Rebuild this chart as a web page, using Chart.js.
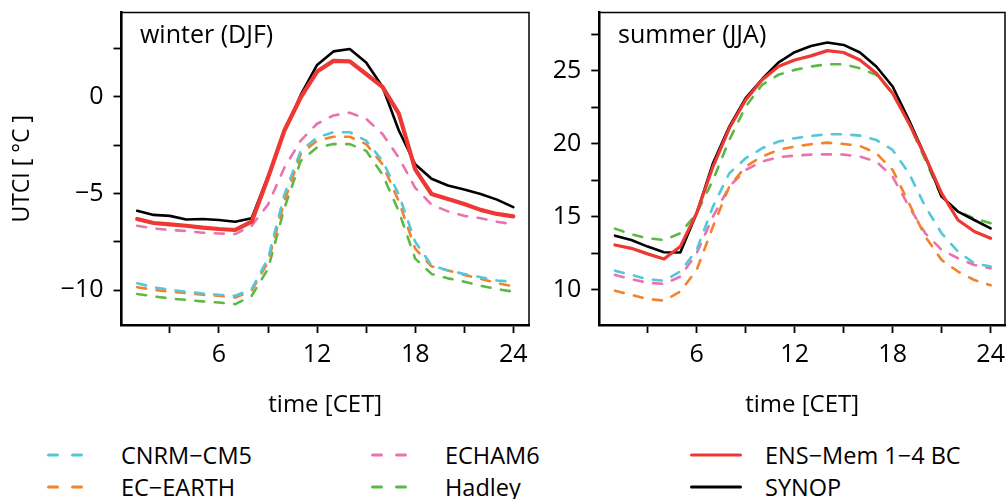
<!DOCTYPE html>
<html>
<head>
<meta charset="utf-8">
<script src="https://cdn.jsdelivr.net/npm/chart.js@4/dist/chart.umd.min.js"></script>
<style>
  html, body { margin: 0; padding: 0; background: #fff; }
  body { width: 1007px; height: 499px; position: relative; overflow: hidden;
         font-family: "Open Sans", "Noto Sans", sans-serif; color: #000; }
  canvas { position: absolute; top: 0; }
  #cWinter { left: 0; }
  #cSummer { left: 540px; }
  .panel-label { position: absolute; font-size: 25px; line-height: 30px; white-space: nowrap; }
  .legend-text { position: absolute; font-size: 23.5px; line-height: 30px; height: 30px; white-space: nowrap; }
  .legend-key { position: absolute; height: 10px; }
</style>
</head>
<body>
<canvas id="cWinter" width="545" height="430"></canvas>
<canvas id="cSummer" width="467" height="430"></canvas>
<div class="panel-label" style="left:140px; top:18px;">winter (DJF)</div>
<div class="panel-label" style="left:618px; top:18px;">summer (JJA)</div>
<div id="legend"></div>
<script>
// hour of day (CET)
const hours = [1,2,3,4,5,6,7,8,9,10,11,12,13,14,15,16,17,18,19,20,21,22,23,24];

// winter (DJF) mean diurnal UTCI cycle, °C
const winterCNRM   = [-9.63,-9.84,-9.97,-10.07,-10.16,-10.23,-10.28,-9.93,-8.36,-5.05,-2.79,-2.09,-1.83,-1.83,-2.26,-3.31,-5.05,-7.49,-8.71,-8.97,-9.15,-9.32,-9.49,-9.55];
const winterECE    = [-9.84,-9.97,-10.07,-10.14,-10.23,-10.28,-10.37,-10.02,-8.54,-5.40,-2.96,-2.26,-2.06,-2.06,-2.44,-3.48,-5.40,-7.84,-8.76,-8.97,-9.20,-9.41,-9.62,-9.79];
const winterECHAM  = [-6.66,-6.80,-6.88,-6.93,-7.02,-7.06,-7.09,-6.66,-5.57,-3.66,-2.26,-1.39,-0.96,-0.82,-1.13,-1.92,-3.14,-4.70,-5.57,-5.92,-6.15,-6.27,-6.45,-6.59];
const winterHadley = [-10.19,-10.31,-10.42,-10.49,-10.57,-10.63,-10.71,-10.28,-8.89,-5.75,-3.31,-2.61,-2.44,-2.44,-2.79,-4.01,-5.92,-8.36,-9.15,-9.38,-9.55,-9.76,-9.93,-10.07];
const winterENS    = [-6.31,-6.52,-6.59,-6.66,-6.76,-6.83,-6.88,-6.45,-4.18,-1.74,-0.03,1.31,1.86,1.83,1.18,0.52,-0.87,-3.75,-5.02,-5.28,-5.54,-5.84,-6.05,-6.18];
const winterSYNOP  = [-5.89,-6.10,-6.15,-6.34,-6.31,-6.36,-6.45,-6.27,-4.10,-1.80,0.10,1.65,2.35,2.47,1.78,0.52,-1.74,-3.48,-4.23,-4.58,-4.79,-5.02,-5.31,-5.70];

// summer (JJA) mean diurnal UTCI cycle, °C
const summerCNRM   = [11.32,11.03,10.73,10.64,11.26,12.74,15.71,17.99,19.02,19.70,20.16,20.39,20.55,20.66,20.66,20.57,20.27,19.59,17.99,15.71,13.88,12.63,11.83,11.60];
const summerECE    = [9.95,9.66,9.38,9.27,9.89,11.37,14.34,17.08,18.45,19.13,19.59,19.82,19.98,20.09,20.00,19.86,19.36,18.22,15.94,13.65,12.05,11.26,10.68,10.32];
const summerECHAM  = [11.03,10.73,10.50,10.41,10.91,12.51,15.02,17.08,18.22,18.79,19.09,19.20,19.27,19.29,19.27,19.13,18.79,17.76,15.71,13.88,12.74,12.17,11.71,11.48];
const summerHadley = [14.20,13.81,13.54,13.42,13.88,15.25,17.53,20.27,22.56,24.04,24.73,25.07,25.30,25.46,25.46,25.18,24.73,23.47,21.42,18.90,16.39,15.37,14.91,14.57];
const summerENS    = [13.08,12.85,12.47,12.12,12.97,15.25,18.45,21.07,23.01,24.38,25.30,25.75,26.03,26.39,26.26,25.75,24.84,23.47,21.42,19.13,16.62,14.79,14.00,13.54];
const summerSYNOP  = [13.72,13.42,12.97,12.58,12.56,15.25,18.68,21.19,23.13,24.43,25.57,26.28,26.71,26.94,26.78,26.26,25.30,23.93,21.64,19.13,16.39,15.37,14.79,14.22];

// axis ticks
const xTicks = [3,6,9,12,15,18,21,24];
const xLabelled = [6,12,18,24];
const winterYTicks = [-10,-7.5,-5,-2.5,0,2.5];
const winterYLabelled = [-10,-5,0];
const summerYTicks = [10,12.5,15,17.5,20,22.5,25,27.5];
const summerYLabelled = [10,15,20,25];

const seriesNames = ['CNRM−CM5','EC−EARTH','ECHAM6','Hadley','ENS−Mem 1−4 BC','SYNOP'];
const colours = {
  'CNRM−CM5': '#54c7d9',
  'EC−EARTH': '#f4812c',
  'ECHAM6': '#ea72ae',
  'Hadley': '#5cb946',
  'ENS−Mem 1−4 BC': '#ee3833',
  'SYNOP': '#000000'
};

const FONT = '"Open Sans", "Noto Sans", sans-serif';
const fmt = v => (v < 0 ? '\u2212' + Math.abs(v) : String(v));

function makeDatasets(values, redWidth) {
  return seriesNames.map((name, i) => {
    const solid = i >= 4;
    return {
      label: name,
      data: hours.map((h, k) => ({ x: h, y: values[i][k] })),
      borderColor: colours[name],
      borderWidth: name === 'SYNOP' ? 2.6 : (solid ? redWidth : 2.6),
      borderDash: solid ? [] : [9, 10.5],
      borderCapStyle: 'round',
      borderJoinStyle: 'round',
      pointRadius: 0,
      tension: 0,
      fill: false,
      order: name === 'ENS−Mem 1−4 BC' ? 0 : (name === 'SYNOP' ? 1 : 2 + i)
    };
  });
}

// frame around the plotting region
const frame = {
  id: 'frame',
  afterDatasetsDraw(chart) {
    const a = chart.chartArea, ctx = chart.ctx;
    ctx.save();
    ctx.strokeStyle = '#000';
    ctx.lineWidth = 1.5;
    ctx.strokeRect(a.left, a.top, a.right - a.left, a.bottom - a.top);
    ctx.restore();
  }
};

function makeChart(id, values, yMin, yMax, yTicks, yLabelled, yWidth, xMax, padRight, showYTitle, redWidth) {
  const tickFont = { family: FONT, size: 25 };
  return new Chart(document.getElementById(id), {
    type: 'line',
    data: { datasets: makeDatasets(values, redWidth) },
    plugins: [frame],
    options: {
      responsive: false,
      animation: false,
      events: [],
      layout: { padding: { top: 12.5, right: padRight, left: 0, bottom: 0 } },
      plugins: { legend: { display: false }, tooltip: { enabled: false } },
      scales: {
        x: {
          type: 'linear',
          min: 0.04,
          max: xMax,
          afterBuildTicks: s => { s.ticks = xTicks.map(v => ({ value: v })); },
          afterFit: s => { s.height = 105; s.paddingLeft = 0; s.paddingRight = 0; },
          ticks: {
            autoSkip: false, maxRotation: 0, padding: 7, color: '#000', font: tickFont,
            callback: v => (xLabelled.includes(v) ? String(v) : '')
          },
          grid: { drawOnChartArea: false, drawTicks: true, tickLength: 8, tickWidth: 1.8, tickColor: '#000' },
          border: { display: true, color: '#000', width: 2.5 },
          title: { display: true, text: 'time [CET]', color: '#000',
                   font: { family: FONT, size: 24 }, padding: { top: 0, bottom: 10 } }
        },
        y: {
          type: 'linear',
          min: yMin,
          max: yMax,
          afterBuildTicks: s => { s.ticks = yTicks.map(v => ({ value: v })); },
          afterFit: s => { s.width = yWidth; s.paddingTop = 0; s.paddingBottom = 0; },
          ticks: {
            autoSkip: false, padding: 10, color: '#000', font: tickFont,
            callback: v => (yLabelled.includes(v) ? fmt(v) : '')
          },
          grid: { drawOnChartArea: false, drawTicks: true, tickLength: 8, tickWidth: 1.8, tickColor: '#000' },
          border: { display: true, color: '#000', width: 2.5 },
          title: { display: showYTitle, text: 'UTCI [ °C ]', color: '#000',
                   font: { family: FONT, size: 23 }, padding: { top: 9, bottom: 0 } }
        }
      }
    }
  });
}

makeChart('cWinter',
  [winterCNRM, winterECE, winterECHAM, winterHadley, winterENS, winterSYNOP],
  -11.79, 4.36, winterYTicks, winterYLabelled, 121.5, 24.96, 16, true, 4.2);
makeChart('cSummer',
  [summerCNRM, summerECE, summerECHAM, summerHadley, summerENS, summerSYNOP],
  7.6, 29.0, summerYTicks, summerYLabelled, 59.3, 24.88, 2, false, 3.2);

// legend below both panels: key line position and label position per entry
const legendSlots = [
  { name: 'CNRM−CM5',       keyLeft: 44,  keyRight: 86,  textLeft: 121, row: 455 },
  { name: 'EC−EARTH',       keyLeft: 44,  keyRight: 86,  textLeft: 121, row: 487 },
  { name: 'ECHAM6',         keyLeft: 368, keyRight: 408, textLeft: 445, row: 455 },
  { name: 'Hadley',         keyLeft: 368, keyRight: 408, textLeft: 445, row: 487 },
  { name: 'ENS−Mem 1−4 BC', keyLeft: 690, keyRight: 742, textLeft: 765, row: 455 },
  { name: 'SYNOP',          keyLeft: 690, keyRight: 742, textLeft: 765, row: 487 }
];
const legend = document.getElementById('legend');
legendSlots.forEach(s => {
  const solid = s.name === 'ENS−Mem 1−4 BC' || s.name === 'SYNOP';
  const w = s.keyRight - s.keyLeft;
  const key = document.createElementNS('http://www.w3.org/2000/svg', 'svg');
  key.setAttribute('class', 'legend-key');
  key.setAttribute('width', w);
  key.setAttribute('height', 10);
  key.style.left = s.keyLeft + 'px';
  key.style.top = (s.row - 5) + 'px';
  key.innerHTML = solid
    ? '<line x1="1.5" y1="5" x2="' + (w - 1.5) + '" y2="5" stroke="' + colours[s.name] + '" stroke-width="3" stroke-linecap="round"/>'
    : '<line x1="4.5" y1="5" x2="' + (w - 1.5) + '" y2="5" stroke="' + colours[s.name] + '" stroke-width="3" stroke-linecap="round" stroke-dasharray="9 15"/>';
  legend.appendChild(key);
  const txt = document.createElement('div');
  txt.className = 'legend-text';
  txt.style.left = s.textLeft + 'px';
  txt.style.top = (s.row - 15) + 'px';
  txt.textContent = s.name;
  legend.appendChild(txt);
});
</script>
</body>
</html>
